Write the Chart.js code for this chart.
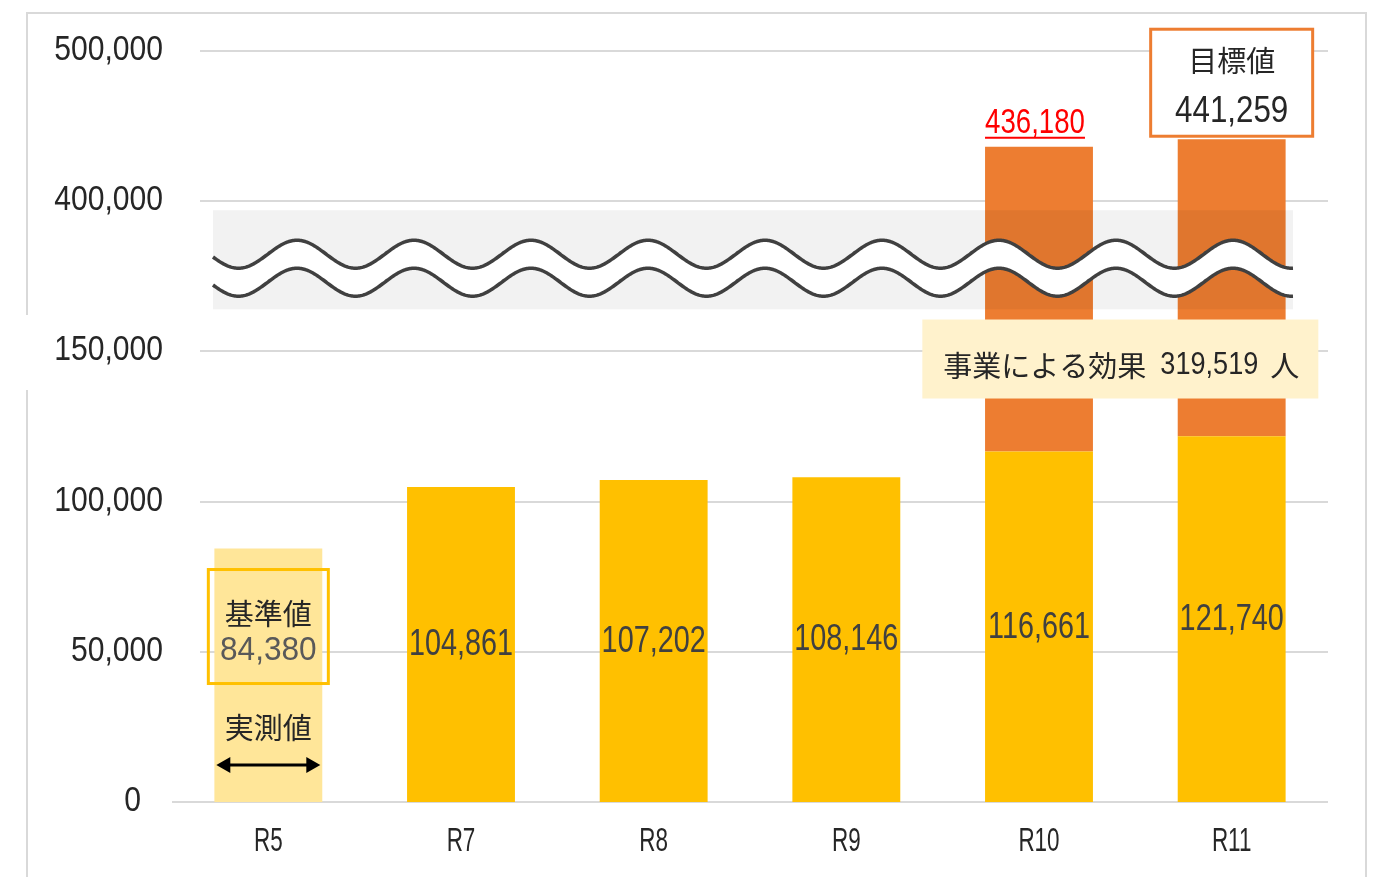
<!DOCTYPE html>
<html>
<head>
<meta charset="utf-8">
<script src="https://cdn.jsdelivr.net/npm/chart.js@4/dist/chart.umd.min.js"></script>
<style>
  html, body { margin: 0; padding: 0; background: #ffffff; }
  #wrap { width: 1379px; height: 877px; }
</style>
</head>
<body>
<div id="wrap"><canvas id="effectChart" width="1379" height="877"></canvas></div>
<script>
document.addEventListener("DOMContentLoaded", function () {
    // Data
    const categories = ["R5", "R7", "R8", "R9", "R10", "R11"];
    const actualValues = [84380, 104861, 107202, 108146, 116661, 121740];
    const targetTotals = [null, null, null, null, 436180, 441259];
    const effectValue = 319519;
    const yTickValues = [0, 50000, 100000, 150000, 400000, 500000];

    // Broken axis: 0-150,000 as is, 400,000+ squeezed by half and placed above 200,000
    const BREAK_AT = 400000;
    const BREAK_BASE = 200000;
    const toAxis = v => v < BREAK_AT ? v : BREAK_BASE + (v - BREAK_AT) / 2;
    const fromAxis = d => d <= 150000 ? d : BREAK_AT + (d - BREAK_BASE) * 2;

    const fmt = n => n.toLocaleString("en-US");
    const SANS = '"Liberation Sans", Arial, sans-serif';
    const CJK = '"Noto Sans CJK JP", "Noto Sans CJK SC", sans-serif';

    // no condensed font installed, so squeeze latin text horizontally
    function squeezed(ctx, text, x, y, size, sx, align, color) {
        ctx.save();
        ctx.translate(x, y);
        ctx.scale(sx, 1);
        ctx.font = size + "px " + SANS;
        ctx.fillStyle = color;
        ctx.textAlign = align;
        ctx.textBaseline = "middle";
        ctx.fillText(text, 0, 0);
        const w = ctx.measureText(text).width * sx;
        ctx.restore();
        return w;
    }

    const effectData = targetTotals.map((t, i) => t == null ? null : toAxis(t) - actualValues[i]);

    const decor = {
        id: "decor",
        beforeDatasetsDraw(chart) {
            const ctx = chart.ctx;
            const area = chart.chartArea;
            const y = chart.scales.y;
            const x = chart.scales.x;
            ctx.save();
            // outer frame with the small gap on the left side
            ctx.strokeStyle = "#D9D9D9";
            ctx.lineWidth = 2;
            ctx.beginPath();
            ctx.moveTo(27, 877); ctx.lineTo(27, 390);
            ctx.moveTo(27, 315); ctx.lineTo(27, 13); ctx.lineTo(1366, 13); ctx.lineTo(1366, 877);
            ctx.stroke();
            // grid lines and y labels
            yTickValues.forEach(v => {
                const py = Math.round(y.getPixelForValue(toAxis(v)));
                ctx.strokeStyle = "#D9D9D9";
                ctx.lineWidth = 2;
                ctx.beginPath();
                ctx.moveTo(v === 0 ? area.left : area.left + 28, py);
                ctx.lineTo(area.right, py);
                ctx.stroke();
                squeezed(ctx, fmt(v), v === 0 ? area.left - 31 : area.left - 9, py - 1, 35, 0.86, "right", "#262626");
            });
            // category labels
            categories.forEach((c, i) => {
                squeezed(ctx, c, x.getPixelForTick(i), area.bottom + 40, 34, 0.66, "center", "#262626");
            });
            ctx.restore();
        },
        afterDatasetsDraw(chart) {
            const ctx = chart.ctx;
            const area = chart.chartArea;
            const y = chart.scales.y;
            const bars = chart.getDatasetMeta(0).data;
            const tops = chart.getDatasetMeta(1).data;
            ctx.save();

            // axis break band
            const bandTop = y.getPixelForValue(197000);
            const bandBottom = y.getPixelForValue(164000);
            const bandLeft = area.left + 41;
            const bandRight = area.right - 35;
            ctx.fillStyle = "rgba(0,0,0,0.05)";
            ctx.fillRect(bandLeft, bandTop, bandRight - bandLeft, bandBottom - bandTop);

            const mid = bandTop + 44, amp = 14, gap = 28, period = 117;
            const wave = (px, off) => mid + off - amp * Math.cos(2 * Math.PI * (px - bandLeft - 84) / period);
            ctx.beginPath();
            for (let px = bandLeft; px <= bandRight; px++) {
                px === bandLeft ? ctx.moveTo(px, wave(px, 0)) : ctx.lineTo(px, wave(px, 0));
            }
            for (let px = bandRight; px >= bandLeft; px--) ctx.lineTo(px, wave(px, gap));
            ctx.closePath();
            ctx.fillStyle = "#ffffff";
            ctx.fill();
            ctx.strokeStyle = "#404040";
            ctx.lineWidth = 3.5;
            [0, gap].forEach(off => {
                ctx.beginPath();
                for (let px = bandLeft; px <= bandRight; px++) {
                    px === bandLeft ? ctx.moveTo(px, wave(px, off)) : ctx.lineTo(px, wave(px, off));
                }
                ctx.stroke();
            });

            ctx.textAlign = "center";
            ctx.textBaseline = "middle";

            // values inside the yellow bars
            bars.forEach((b, i) => {
                if (i === 0) return;
                squeezed(ctx, fmt(actualValues[i]), b.x, (b.y + b.base) / 2 + 1, 36, 0.8, "center", "#404040");
            });

            // R5 baseline box
            const b0 = bars[0];
            const boxTop = b0.y + 21;
            ctx.strokeStyle = "#FFC000";
            ctx.lineWidth = 3;
            ctx.strokeRect(b0.x - 60, boxTop, 120, 114);
            ctx.fillStyle = "#262626";
            ctx.font = "29px " + CJK;
            ctx.fillText("基準値", b0.x, boxTop + 44);
            squeezed(ctx, fmt(actualValues[0]), b0.x, boxTop + 81, 34, 0.93, "center", "#595959");
            ctx.fillStyle = "#262626";
            ctx.font = "29px " + CJK;
            ctx.fillText("実測値", b0.x, b0.base - 74);
            // double arrow
            const ay = b0.base - 37, ax1 = b0.x - 52, ax2 = b0.x + 52;
            ctx.strokeStyle = "#000000";
            ctx.fillStyle = "#000000";
            ctx.lineWidth = 3;
            ctx.beginPath(); ctx.moveTo(ax1 + 8, ay); ctx.lineTo(ax2 - 8, ay); ctx.stroke();
            ctx.beginPath(); ctx.moveTo(ax1, ay); ctx.lineTo(ax1 + 14, ay - 8); ctx.lineTo(ax1 + 14, ay + 8); ctx.closePath(); ctx.fill();
            ctx.beginPath(); ctx.moveTo(ax2, ay); ctx.lineTo(ax2 - 14, ay - 8); ctx.lineTo(ax2 - 14, ay + 8); ctx.closePath(); ctx.fill();

            // R10 total in red, underlined
            const t10 = tops[4];
            const rx = t10.x - 4, ry = t10.y - 24;
            const rw = squeezed(ctx, fmt(targetTotals[4]), rx, ry, 35, 0.79, "center", "#FF0000");
            ctx.strokeStyle = "#FF0000";
            ctx.lineWidth = 2;
            ctx.beginPath(); ctx.moveTo(rx - rw / 2, ry + 15); ctx.lineTo(rx + rw / 2, ry + 15); ctx.stroke();

            // R11 target box
            const t11 = tops[5];
            const gTop = t11.y - 3 - 107;
            ctx.fillStyle = "#ffffff";
            ctx.fillRect(t11.x - 81, gTop, 162, 107);
            ctx.strokeStyle = "#ED7D31";
            ctx.lineWidth = 3;
            ctx.strokeRect(t11.x - 81, gTop, 162, 107);
            ctx.fillStyle = "#262626";
            ctx.font = "29px " + CJK;
            ctx.textAlign = "center";
            ctx.fillText("目標値", t11.x, gTop + 32);
            squeezed(ctx, fmt(targetTotals[5]), t11.x, gTop + 83, 36, 0.87, "center", "#262626");

            // effect label
            const ecx = (bars[4].x + bars[5].x) / 2 - 15;
            const ecy = y.getPixelForValue(147300);
            ctx.fillStyle = "#FFF2CC";
            ctx.fillRect(ecx - 198, ecy - 40, 396, 79);
            const p1 = "事業による効果", p2 = fmt(effectValue), p3 = "人";
            ctx.font = "29px " + CJK;
            const w1 = ctx.measureText(p1).width;
            const w3 = ctx.measureText(p3).width;
            ctx.font = "31px " + SANS;
            const w2 = ctx.measureText(p2).width * 0.875;
            const g1 = 14, g2 = 12;
            let sx = ecx - (w1 + g1 + w2 + g2 + w3) / 2 + 1;
            ctx.textAlign = "left";
            ctx.fillStyle = "#262626";
            ctx.font = "29px " + CJK;
            ctx.fillText(p1, sx, ecy + 6);
            sx += w1 + g1;
            squeezed(ctx, p2, sx, ecy + 6, 31, 0.875, "left", "#262626");
            sx += w2 + g2;
            ctx.fillStyle = "#262626";
            ctx.font = "29px " + CJK;
            ctx.textAlign = "left";
            ctx.fillText(p3, sx, ecy + 6);

            ctx.restore();
        }
    };

    new Chart(document.getElementById("effectChart").getContext("2d"), {
        type: "bar",
        data: {
            labels: categories,
            datasets: [{
                label: "実測値・推計値",
                data: actualValues,
                backgroundColor: categories.map((c, i) => i === 0 ? "#FFE699" : "#FFC000"),
                barPercentage: 0.56,
                categoryPercentage: 1
            }, {
                label: "事業による効果",
                data: effectData,
                backgroundColor: "#ED7D31",
                barPercentage: 0.56,
                categoryPercentage: 1
            }]
        },
        options: {
            responsive: false,
            animation: false,
            layout: { padding: { top: 51, right: 51, left: 0, bottom: 0 } },
            plugins: { legend: { display: false }, tooltip: { enabled: false } },
            scales: {
                x: {
                    stacked: true,
                    grid: { display: false },
                    border: { display: false },
                    ticks: { display: false },
                    afterFit: s => { s.height = 75; }
                },
                y: {
                    stacked: true,
                    min: 0,
                    max: toAxis(500000),
                    grid: { display: false },
                    border: { display: false },
                    afterBuildTicks: s => { s.ticks = yTickValues.map(v => ({ value: toAxis(v) })); },
                    afterFit: s => { s.width = 172; },
                    ticks: { display: false, callback: value => fmt(fromAxis(value)) }
                }
            }
        },
        plugins: [decor]
    });
});
</script>
</body>
</html>
